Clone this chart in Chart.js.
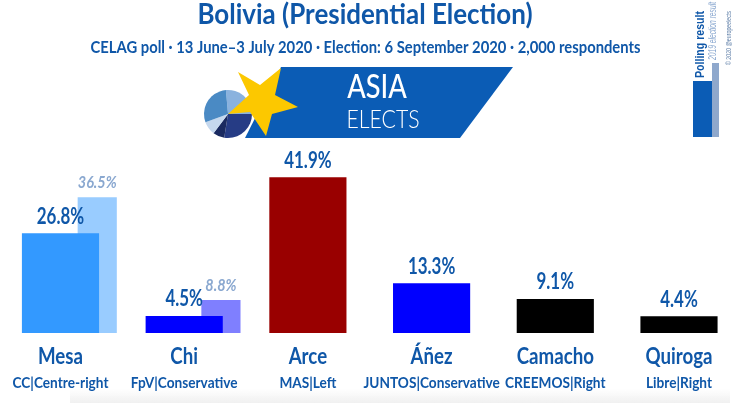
<!DOCTYPE html>
<html>
<head>
<meta charset="utf-8">
<title>Bolivia (Presidential Election)</title>
<script src="https://cdn.jsdelivr.net/npm/chart.js@4/dist/chart.umd.min.js"></script>
<style>
    html, body { margin: 0; padding: 0; background: #fff; }
    canvas { display: block; }
</style>
</head>
<body>
<canvas id="chart" width="750" height="403"></canvas>
<script>
// Chart data
const candidates = ['Mesa', 'Chi', 'Arce', 'Áñez', 'Camacho', 'Quiroga'];
const parties = ['CC|Centre-right', 'FpV|Conservative', 'MAS|Left', 'JUNTOS|Conservative', 'CREEMOS|Right', 'Libre|Right'];
const pollingResult = [26.8, 4.5, 41.9, 13.3, 9.1, 4.4];
const electionResult2019 = [36.5, 8.8, null, null, null, null];
const pollColors = ['#3399ff', '#0000ff', '#990000', '#0000ff', '#000000', '#000000'];
const resultColors = ['#99ccff', '#7f7fff', null, null, null, null];

const titleText = 'Bolivia (Presidential Election)';
const subtitleText = 'CELAG poll · 13 June–3 July 2020 · Election: 6 September 2020 · 2,000 respondents';

const BLUE = '#0f57a8';
const PALE = '#8aa8d0';
const FONT = 'Lato, sans-serif';

function polygon(ctx, points, color) {
    ctx.beginPath();
    points.forEach(([x, y], i) => i ? ctx.lineTo(x, y) : ctx.moveTo(x, y));
    ctx.closePath();
    ctx.fillStyle = color;
    ctx.fill();
}

// squeeze narrows the text, the reference uses a condensed typeface
function label(ctx, text, x, y, font, color, squeeze = 1) {
    ctx.font = font;
    ctx.fillStyle = color;
    ctx.textAlign = 'center';
    ctx.textBaseline = 'middle';
    ctx.fillText(text, x, y, ctx.measureText(text).width * squeeze);
}

function rotatedLabel(ctx, text, x, y, font, color, length) {
    ctx.save();
    ctx.translate(x, y);
    ctx.rotate(-Math.PI / 2);
    ctx.font = font;
    ctx.fillStyle = color;
    ctx.textAlign = 'left';
    ctx.textBaseline = 'middle';
    ctx.fillText(text, 0, 0, length);
    ctx.restore();
}

// Asia Elects banner with the pie and the star
function drawLogo(ctx) {
    polygon(ctx, [[281, 67], [513, 67], [460, 138], [245, 138]], '#0b5cb5');

    const slices = [
        [-95, 0, '#8ab2de'],
        [0, 99, '#263c85'],
        [99, 127, '#1a2a60'],
        [127, 160, '#c5d8ee'],
        [160, 265, '#4a8ac4']
    ];
    slices.forEach(([start, end, color]) => {
        ctx.beginPath();
        ctx.moveTo(228, 114);
        ctx.ellipse(228, 114, 24, 24, 0, start * Math.PI / 180, end * Math.PI / 180);
        ctx.closePath();
        ctx.fillStyle = color;
        ctx.fill();
    });

    polygon(ctx, [
        [281, 68], [275, 95], [298, 107], [272, 114], [266, 136],
        [250, 112], [228, 114], [249, 95], [238, 72], [260, 85]
    ], '#fcc800');

    label(ctx, 'ASIA', 377, 88, '500 32px Lato, sans-serif', '#ffffff', 0.85);
    label(ctx, 'ELECTS', 383, 120, '300 25px Lato, sans-serif', '#ffffff', 0.85);
}

// Key in the top right corner
function drawKey(ctx) {
    ctx.fillStyle = '#8fa8cc';
    ctx.fillRect(712, 63, 7, 74);
    ctx.fillStyle = '#0b5cb5';
    ctx.fillRect(693, 81, 19, 56);
    rotatedLabel(ctx, 'Polling result', 701, 78, 'bold 12px "Liberation Sans", sans-serif', BLUE, 67);
    rotatedLabel(ctx, '2019 election result', 713, 60, 'italic 10px "Liberation Sans", sans-serif', PALE, 58);
    rotatedLabel(ctx, '© 2020 @europeelects', 729, 65, '7px "Liberation Sans", sans-serif', '#5f7fa8', 54);
}

const overlayPlugin = {
    id: 'overlay',
    beforeDraw(chart) {
        const { ctx, width, height } = chart;
        ctx.save();
        const shade = ctx.createLinearGradient(0, 389, 0, height);
        shade.addColorStop(0, 'rgba(225, 225, 225, 0)');
        shade.addColorStop(1, 'rgba(225, 225, 225, 0.5)');
        ctx.fillStyle = shade;
        ctx.fillRect(70, 389, width - 90, height - 389);
        ctx.restore();
    },
    afterDraw(chart) {
        const { ctx, scales } = chart;
        ctx.save();

        label(ctx, titleText, 365, 15, `bold 29px ${FONT}`, BLUE, 0.895);
        label(ctx, subtitleText, 365.5, 48, `bold 17px ${FONT}`, BLUE, 0.87);
        drawLogo(ctx);
        drawKey(ctx);

        // Value labels over both kinds of bar
        chart.getDatasetMeta(1).data.forEach(bar => {
            const value = bar.$context.raw.y;
            label(ctx, value.toFixed(1) + '%', bar.x, bar.y - 15, `italic bold 17px ${FONT}`, PALE, 0.85);
        });
        chart.getDatasetMeta(0).data.forEach((bar, i) => {
            label(ctx, pollingResult[i].toFixed(1) + '%', bar.x, bar.y - 17, `bold 22px ${FONT}`, BLUE, 0.77);
        });

        // Candidate names and parties under the bars
        candidates.forEach((name, i) => {
            const x = scales.x.getPixelForValue(i);
            label(ctx, name, x, 357, `bold 22px ${FONT}`, BLUE, 0.85);
            label(ctx, parties[i], x, 383, `bold 15px ${FONT}`, BLUE, 0.91);
        });
        ctx.restore();
    }
};

new Chart(document.getElementById('chart'), {
    type: 'bar',
    data: {
        datasets: [
            {
                label: 'Polling result',
                data: pollingResult.map((y, x) => ({ x, y })),
                backgroundColor: pollColors,
                barThickness: 76.5,
                grouped: false,
                xAxisID: 'x',
                order: 1
            },
            {
                label: '2019 election result',
                data: electionResult2019
                    .map((y, x) => ({ x, y }))
                    .filter(d => d.y !== null),
                backgroundColor: resultColors.filter(c => c),
                barThickness: 38.5,
                grouped: false,
                xAxisID: 'xResult',
                order: 2
            }
        ]
    },
    options: {
        responsive: false,
        animation: false,
        layout: { padding: { top: 166, bottom: 70 } },
        plugins: {
            legend: { display: false },
            title: { display: false },
            tooltip: { enabled: false }
        },
        scales: {
            x: { type: 'linear', offset: false, display: false, min: -0.489, max: 5.574, grid: { display: false } },
            // Same spacing as x, moved right so the 2019 bars stick out behind the poll bars
            xResult: { type: 'linear', offset: false, display: false, min: -0.786, max: 5.277, grid: { display: false } },
            y: { display: false, min: 0, max: 45, grid: { display: false } }
        }
    },
    plugins: [overlayPlugin]
});
</script>
</body>
</html>
